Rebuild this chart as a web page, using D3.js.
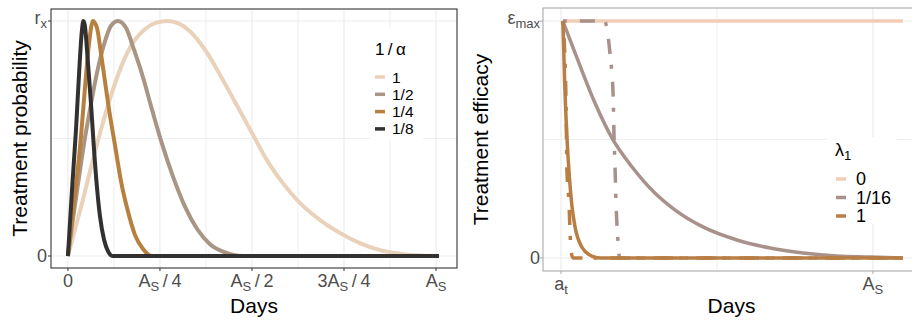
<!DOCTYPE html>
<html>
<head>
<meta charset="utf-8">
<script src="https://cdn.jsdelivr.net/npm/d3@7"></script>
<style>
  body { margin: 0; background: #fff; }
  svg { display: block; }
</style>
</head>
<body>
<svg id="chart"></svg>
<script>
// left panel: days as fraction of A_S, probability as fraction of r_x
const alphaKeys = ["1", "1/2", "1/4", "1/8"];
const probAlpha1 = [[0, 0], [0.016, 0.095], [0.035, 0.205], [0.073, 0.44], [0.101, 0.6], [0.128, 0.735],
  [0.168, 0.885], [0.209, 0.965], [0.24, 0.993], [0.27, 1.0], [0.3, 0.99], [0.332, 0.955], [0.378, 0.864],
  [0.421, 0.749], [0.467, 0.618], [0.5, 0.524], [0.541, 0.407], [0.584, 0.31], [0.63, 0.226], [0.685, 0.153],
  [0.739, 0.098], [0.793, 0.055], [0.848, 0.025], [0.902, 0.01], [0.957, 0.002], [1.008, 0]];
const probAlpha2 = [[0, 0], [0.012, 0.14], [0.024, 0.27], [0.046, 0.5], [0.063, 0.65], [0.079, 0.78],
  [0.098, 0.9], [0.117, 0.98], [0.136, 1.0], [0.158, 0.97], [0.179, 0.88], [0.204, 0.76], [0.228, 0.625],
  [0.255, 0.48], [0.285, 0.34], [0.318, 0.21], [0.351, 0.115], [0.386, 0.05], [0.427, 0.015], [0.473, 0],
  [1.008, 0]];
const probAlpha4 = [[0, 0], [0.012, 0.17], [0.024, 0.33], [0.035, 0.5], [0.046, 0.71], [0.057, 0.9],
  [0.068, 1.0], [0.079, 0.97], [0.09, 0.86], [0.1, 0.75], [0.114, 0.6], [0.128, 0.47], [0.144, 0.32],
  [0.163, 0.19], [0.182, 0.09], [0.204, 0.03], [0.228, 0], [1.008, 0]];
const probAlpha8 = [[0, 0], [0.011, 0.28], [0.022, 0.54], [0.03, 0.77], [0.038, 0.96], [0.042, 1.0],
  [0.046, 0.98], [0.054, 0.83], [0.063, 0.64], [0.071, 0.45], [0.079, 0.29], [0.087, 0.17], [0.098, 0.07],
  [0.109, 0.02], [0.122, 0], [1.008, 0]];

// right panel: days from a_t (0) to A_S (1), efficacy as fraction of eps_max
const lambdaKeys = ["0", "1/16", "1"];
const effLambda0 = [[0.006, 1], [1.096, 1]];
const effLambda16 = [[0.006, 1], [0.029, 0.92], [0.054, 0.835], [0.109, 0.654], [0.167, 0.498],
  [0.228, 0.384], [0.301, 0.274], [0.365, 0.203], [0.455, 0.131], [0.564, 0.076], [0.67, 0.042],
  [0.776, 0.021], [0.885, 0.008], [0.99, 0.004], [1.096, 0]];
const effLambda16Alt = [[0.006, 1], [0.138, 1], [0.1465, 0.975], [0.157, 0.865], [0.1635, 0.772],
  [0.1676, 0.667], [0.1699, 0.519], [0.1731, 0.392], [0.1763, 0.236], [0.1795, 0.139], [0.1837, 0.055],
  [0.1875, 0], [1.096, 0]];
const effLambda1 = [[0.006, 1], [0.012, 0.73], [0.019, 0.51], [0.027, 0.34], [0.035, 0.22], [0.045, 0.131],
  [0.067, 0.046], [0.099, 0.008], [0.125, 0], [1.096, 0]];
const effLambda1Alt = [[0.006, 1], [0.016, 0.667], [0.019, 0.371], [0.0256, 0.232], [0.0288, 0.118],
  [0.032, 0.034], [0.0385, 0], [1.096, 0]];

// tick labels: [base, subscript, tail]
const leftXTicks = [0, 0.25, 0.5, 0.75, 1];
const leftXLabels = [["0"], ["A", "S", "\u2009/\u20094"], ["A", "S", "\u2009/\u20092"], ["3A", "S", "\u2009/\u20094"], ["A", "S"]];
const leftYTicks = [0, 1];
const leftYLabels = [["0"], ["r", "x"]];
const rightXTicks = [0, 1];
const rightXLabels = [["a", "t"], ["A", "S"]];
const rightYTicks = [0, 1];
const rightYLabels = [["0"], ["\u03b5", "max"]];

const font = "'Liberation Sans', Arial, Helvetica, sans-serif";
const svg = d3.select("#chart").attr("width", 912).attr("height", 325);
svg.append("rect").attr("width", 912).attr("height", 325).attr("fill", "#fff");

function writeLabel(text, parts, subSize) {
  text.append("tspan").text(parts[0]);
  if (parts[1]) text.append("tspan").attr("font-size", subSize).attr("dy", 4).text(parts[1]);
  if (parts[2]) text.append("tspan").attr("dy", -4).text(parts[2]);
}

function drawPanel(p) {
  const x = d3.scaleLinear().domain(p.xDomain).range([p.left, p.right]);
  const y = d3.scaleLinear().domain(p.yDomain).range([p.bottom, p.top]);
  const g = svg.append("g");

  // grid
  g.selectAll("line.minorx").data(p.xMinor).join("line")
    .attr("x1", d => x(d)).attr("x2", d => x(d)).attr("y1", p.top).attr("y2", p.bottom)
    .attr("stroke", "#ebebeb").attr("stroke-width", 0.8);
  g.selectAll("line.minory").data(p.yMinor).join("line")
    .attr("y1", d => y(d)).attr("y2", d => y(d)).attr("x1", p.left).attr("x2", p.right)
    .attr("stroke", "#ebebeb").attr("stroke-width", 0.8);
  g.selectAll("line.majorx").data(p.xTicks).join("line")
    .attr("x1", d => x(d)).attr("x2", d => x(d)).attr("y1", p.top).attr("y2", p.bottom)
    .attr("stroke", "#ebebeb").attr("stroke-width", 1.1);
  g.selectAll("line.majory").data(p.yTicks).join("line")
    .attr("y1", d => y(d)).attr("y2", d => y(d)).attr("x1", p.left).attr("x2", p.right)
    .attr("stroke", "#ebebeb").attr("stroke-width", 1.1);

  // legend background (covers grid, under curves)
  const lg = p.legend;
  g.append("rect").attr("x", lg.box[0]).attr("y", lg.box[1]).attr("width", lg.box[2]).attr("height", lg.box[3])
    .attr("fill", "#fff");

  // curves
  const line = d3.line().x(d => x(d[0])).y(d => y(d[1])).curve(d3.curveMonotoneX);
  p.series.forEach(s => {
    g.append("path").attr("d", line(s.data)).attr("fill", "none")
      .attr("stroke", s.color).attr("stroke-width", s.width)
      .attr("stroke-linejoin", "round").attr("stroke-linecap", "butt")
      .attr("stroke-dasharray", s.dash || null);
  });

  // border
  g.append("rect").attr("x", p.left).attr("y", p.top).attr("width", p.right - p.left)
    .attr("height", p.bottom - p.top).attr("fill", "none").attr("stroke", p.border).attr("stroke-width", 1.1);

  // ticks
  g.selectAll("line.tx").data(p.xTicks).join("line")
    .attr("x1", d => x(d)).attr("x2", d => x(d)).attr("y1", p.bottom).attr("y2", p.bottom + 3)
    .attr("stroke", p.border);
  g.selectAll("line.ty").data(p.yTicks).join("line")
    .attr("y1", d => y(d)).attr("y2", d => y(d)).attr("x1", p.left - 3).attr("x2", p.left)
    .attr("stroke", p.border);

  g.selectAll("text.xl").data(p.xTicks).join("text")
    .attr("x", d => x(d)).attr("y", p.bottom + 19).attr("text-anchor", "middle")
    .attr("font-family", font).attr("font-size", 18).attr("fill", "#4d4d4d")
    .each(function(d, i) { writeLabel(d3.select(this), p.xLabels[i], 13); });
  g.selectAll("text.yl").data(p.yTicks).join("text")
    .attr("x", p.yLabelX).attr("y", d => y(d) + 6).attr("text-anchor", "end")
    .attr("font-family", font).attr("font-size", 18).attr("fill", "#4d4d4d")
    .each(function(d, i) { writeLabel(d3.select(this), p.yLabels[i], 13); })
    .filter((d, i) => p.yLabels[i].length > 1).attr("y", d => y(d) + 3);

  // axis titles
  g.append("text").attr("x", (p.left + p.right) / 2).attr("y", 313).attr("text-anchor", "middle")
    .attr("font-family", font).attr("font-size", 21).attr("fill", "#000").text("Days");
  g.append("text").attr("transform", `translate(${p.yTitleX},${(p.top + p.bottom) / 2}) rotate(-90)`)
    .attr("text-anchor", "middle").attr("font-family", font).attr("font-size", 21).attr("fill", "#000")
    .text(p.yTitle);

  // legend
  const title = g.append("text").attr("x", lg.titleX).attr("y", lg.titleY)
    .attr("font-family", font).attr("font-size", lg.titleSize).attr("fill", "#000");
  writeLabel(title, lg.title, 13);
  lg.keys.forEach((k, i) => {
    const ky = lg.keyY + i * lg.step;
    g.append("line").attr("x1", lg.keyX).attr("x2", lg.keyX + 10).attr("y1", ky).attr("y2", ky)
      .attr("stroke", lg.colors[i]).attr("stroke-width", 3.5);
    g.append("text").attr("x", lg.labelX).attr("y", ky + lg.size * 0.36).attr("font-family", font)
      .attr("font-size", lg.size).attr("fill", "#000").text(k);
  });
}

const alphaColors = ["#e9d1ba", "#a89584", "#b7803f", "#333130"];
drawPanel({
  left: 51, right: 457, top: 9, bottom: 268,
  xDomain: [-0.046, 1.057], yDomain: [-0.051, 1.051],
  xTicks: leftXTicks, xLabels: leftXLabels, xMinor: [0.125, 0.375, 0.625, 0.875],
  yTicks: leftYTicks, yLabels: leftYLabels, yMinor: [0.5], yLabelX: 47,
  border: "#333333", yTitle: "Treatment probability", yTitleX: 27,
  series: [
    { data: probAlpha1, color: alphaColors[0], width: 4 },
    { data: probAlpha2, color: alphaColors[1], width: 4 },
    { data: probAlpha4, color: alphaColors[2], width: 4 },
    { data: probAlpha8, color: alphaColors[3], width: 4 }
  ],
  legend: {
    box: [370, 28, 53, 112], title: ["1\u2009/\u2009\u03b1"], titleX: 375, titleY: 55, titleSize: 17, size: 15.5,
    keys: alphaKeys, colors: alphaColors, keyX: 375, keyY: 77, step: 17.3, labelX: 392
  }
});

const lambdaColors = ["#f2cdb5", "#a8918a", "#b97e44"];
const dotDash = "4,13,15,11";
drawPanel({
  left: 543, right: 920, top: 8, bottom: 271,
  xDomain: [-0.0577, 1.151], yDomain: [-0.055, 1.055],
  xTicks: rightXTicks, xLabels: rightXLabels, xMinor: [0.5],
  yTicks: rightYTicks, yLabels: rightYLabels, yMinor: [0.5], yLabelX: 540,
  border: "#aaaaaa", yTitle: "Treatment efficacy", yTitleX: 488,
  series: [
    { data: effLambda0, color: lambdaColors[0], width: 3.5 },
    { data: effLambda16, color: lambdaColors[1], width: 3.5 },
    { data: effLambda16Alt, color: lambdaColors[1], width: 3.5, dash: dotDash },
    { data: effLambda1, color: lambdaColors[2], width: 3.5 },
    { data: effLambda1Alt, color: lambdaColors[2], width: 3.5, dash: dotDash }
  ],
  legend: {
    box: [827, 137, 70, 87], title: ["\u03bb", "1"], titleX: 835, titleY: 156, titleSize: 18, size: 18,
    keys: lambdaKeys, colors: lambdaColors, keyX: 836, keyY: 179, step: 18.5, labelX: 856
  }
});
</script>
</body>
</html>
